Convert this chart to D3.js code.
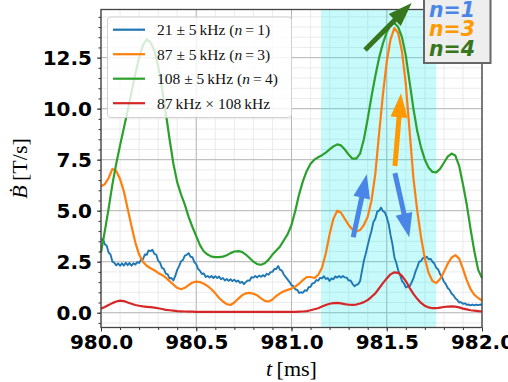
<!DOCTYPE html>
<html><head><meta charset="utf-8">
<script src="https://cdn.jsdelivr.net/npm/d3@7"></script>
<style>body{margin:0;background:#fff}</style>
</head><body><svg id="c" width="508" height="382"></svg>
<script>
// Time grid: smooth traces sampled every 0.02 ms, the n=1 trace every 0.01 ms
const tStart = 980.0;
const stepSmooth = 0.02;
const stepFast = 0.01;

// 21 ± 5 kHz (n = 1)
const blueVals = [
3.55,3.62,3.35,3.28,2.95,2.85,2.5,2.45,2.32,2.42,2.3,2.42,2.31,2.45,2.33,2.44,2.3,2.42,2.36,2.48,
2.44,2.6,2.62,2.85,2.84,3.05,3.02,3.08,2.88,2.85,2.55,2.45,2.2,2.15,1.92,1.88,1.68,1.7,1.58,1.8,
2.1,2.28,2.52,2.58,2.8,2.84,2.92,2.74,2.72,2.48,2.38,2.14,2.05,1.9,1.92,1.75,1.8,1.72,1.8,1.7,
1.79,1.7,1.77,1.64,1.7,1.58,1.65,1.56,1.64,1.55,1.62,1.52,1.58,1.46,1.52,1.4,1.5,1.58,1.57,1.74,
1.72,1.8,1.73,1.82,1.76,1.84,1.78,1.91,1.86,1.99,2.0,2.14,2.14,2.29,2.1,2.06,1.86,1.74,1.62,1.5,
1.35,1.3,1.15,1.12,0.97,1.0,0.98,1.1,1.07,1.25,1.27,1.44,1.46,1.6,1.57,1.71,1.68,1.79,1.66,1.7,
1.56,1.68,1.64,1.78,1.72,1.8,1.72,1.8,1.73,1.72,1.58,1.58,1.42,1.3,1.36,1.4,1.55,2.05,2.55,2.9,
3.3,3.68,4.02,4.45,4.6,4.95,5.0,5.15,4.98,4.92,4.68,4.35,3.8,3.35,2.72,2.45,2.08,1.86,1.55,1.45,
1.24,1.28,1.3,1.47,1.68,2.0,2.22,2.5,2.53,2.68,2.7,2.74,2.62,2.64,2.5,2.41,2.2,2.12,1.88,1.74,
1.52,1.4,1.21,1.12,0.94,0.86,0.71,0.63,0.5,0.52,0.44,0.46,0.39,0.4,0.36,0.4,0.36,0.4,0.37,0.4,
0.38];

// 87 ± 5 kHz (n = 3)
const orangeVals = [
6.2,6.3,6.6,7.05,6.95,6.55,5.95,5.1,4.25,3.45,2.85,2.5,2.3,2.18,2.08,1.95,1.85,1.72,1.55,1.38,
1.22,1.15,1.22,1.35,1.48,1.52,1.5,1.42,1.3,1.15,0.95,0.72,0.55,0.42,0.38,0.5,0.68,0.85,0.95,0.97,
0.93,0.85,0.7,0.58,0.55,0.65,0.82,0.95,1.05,1.12,1.18,1.28,1.42,1.6,1.75,1.75,1.7,1.85,2.2,2.9,
3.85,4.6,5.0,4.9,4.6,4.3,4.08,3.98,4.05,4.3,4.7,5.5,6.8,8.8,10.7,12.3,13.4,13.95,13.7,12.8,
11.2,8.9,6.6,5.0,3.7,2.65,1.95,1.55,1.45,1.65,2.0,2.4,2.7,2.82,2.65,2.15,1.6,1.15,0.88,0.72,
0.6];

// 108 ± 5 kHz (n = 4)
const greenVals = [
2.95,4.0,5.1,6.3,7.3,8.2,9.05,9.9,10.8,11.7,12.5,13.1,13.4,13.25,12.85,12.1,11.0,9.8,8.5,7.3,
6.4,5.8,5.3,4.7,4.2,3.75,3.3,3.0,2.85,2.75,2.72,2.72,2.75,2.82,2.92,3.0,3.02,2.98,2.85,2.68,
2.5,2.38,2.35,2.42,2.6,2.85,3.05,3.25,3.55,3.85,4.3,5.0,5.8,6.45,6.95,7.3,7.5,7.62,7.72,7.85,
8.0,8.15,8.25,8.2,8.0,7.75,7.55,7.55,7.8,8.5,9.5,10.6,11.6,12.5,13.2,13.75,14.1,14.2,14.0,13.5,
12.6,11.3,10.0,8.9,8.1,7.5,7.1,6.9,6.88,7.05,7.35,7.65,7.8,7.7,7.2,6.3,5.3,4.1,3.0,2.1,
1.7];

// 87 kHz × 108 kHz
const redVals = [
0.2,0.28,0.38,0.47,0.55,0.59,0.57,0.5,0.44,0.38,0.34,0.31,0.29,0.27,0.25,0.22,0.18,0.14,0.12,0.1,
0.08,0.07,0.06,0.05,0.05,0.04,0.04,0.04,0.04,0.04,0.04,0.04,0.04,0.04,0.04,0.04,0.04,0.04,0.04,0.04,
0.04,0.04,0.04,0.04,0.04,0.04,0.04,0.04,0.04,0.04,0.04,0.04,0.05,0.06,0.08,0.12,0.17,0.22,0.3,0.38,
0.44,0.47,0.48,0.46,0.42,0.39,0.38,0.4,0.45,0.52,0.62,0.78,0.95,1.2,1.45,1.68,1.88,1.98,1.95,1.8,
1.55,1.22,0.92,0.68,0.48,0.34,0.26,0.22,0.22,0.25,0.28,0.3,0.31,0.3,0.26,0.2,0.16,0.12,0.1,0.08,
0.06];

const seriesColors = ["#1f77b4", "#ff7f0e", "#2ca02c", "#d62728"];
const xTickVals = [980.0, 980.5, 981.0, 981.5, 982.0];
const yTickVals = [0, 2.5, 5, 7.5, 10, 12.5];
const shadedWindow = [981.155, 981.76];

// Arrow annotations in data coordinates: [tTail, vTail, tTip, vTip]
const arrowBlueUp = [981.324, 3.70, 981.395, 6.79];
const arrowBlueDown = [981.543, 6.84, 981.618, 3.70];
const arrowOrangeUp = [981.543, 7.19, 981.575, 10.75];
const arrowGreen = [981.386, 12.88, 981.631, 15.18];
const modeLabels = ["n=1", "n=3", "n=4"];
const modeColors = ["#4a86e8", "#ff9900", "#38761d"];

const svg = d3.select("#c");
const plotL = 101, plotR = 482, plotT = 9.5, plotB = 327.5;

const x = d3.scaleLinear().domain([980, 982]).range([plotL, plotR]);
const y = d3.scaleLinear().domain([-0.725, 14.86]).range([plotB, plotT]);

// Grid: minor then major
const gGrid = svg.append("g");
const xMinor = d3.range(980.1, 982.0, 0.1).map(v => +v.toFixed(2));
const yMinor = d3.range(-0.5, 14.9, 0.5).map(v => +v.toFixed(2));
gGrid.selectAll(".xm").data(xMinor).join("line")
  .attr("x1", d => x(d)).attr("x2", d => x(d)).attr("y1", plotT).attr("y2", plotB)
  .attr("stroke", "#e6e6e6").attr("stroke-width", 0.8);
gGrid.selectAll(".ym").data(yMinor).join("line")
  .attr("y1", d => y(d)).attr("y2", d => y(d)).attr("x1", plotL).attr("x2", plotR)
  .attr("stroke", "#e6e6e6").attr("stroke-width", 0.8);
gGrid.selectAll(".xM").data(xTickVals).join("line")
  .attr("x1", d => x(d)).attr("x2", d => x(d)).attr("y1", plotT).attr("y2", plotB)
  .attr("stroke", "#b8b8b8").attr("stroke-width", 1);
gGrid.selectAll(".yM").data(yTickVals).join("line")
  .attr("y1", d => y(d)).attr("y2", d => y(d)).attr("x1", plotL).attr("x2", plotR)
  .attr("stroke", "#b8b8b8").attr("stroke-width", 1);

// Shaded time window
svg.append("rect")
  .attr("x", x(shadedWindow[0])).attr("y", plotT)
  .attr("width", x(shadedWindow[1]) - x(shadedWindow[0])).attr("height", plotB - plotT)
  .attr("fill", "#00e8e8").attr("opacity", 0.22);

// Traces
const line = d3.line().x(d => x(d[0])).y(d => y(d[1]));
const toPts = (vals, step) => vals.map((v, i) => [tStart + i * step, v]);
const traces = [
  toPts(blueVals, stepFast),
  toPts(orangeVals, stepSmooth),
  toPts(greenVals, stepSmooth),
  toPts(redVals, stepSmooth)
];
svg.append("g").selectAll("path").data(traces).join("path")
  .attr("d", line).attr("fill", "none")
  .attr("stroke", (d, i) => seriesColors[i])
  .attr("stroke-width", (d, i) => i === 0 ? 1.9 : 2.2)
  .attr("stroke-linejoin", "round");

// Axes
const tickFont = "'DejaVu Sans', sans-serif";
const xAxis = d3.axisBottom(x).tickValues(xTickVals).tickFormat(d3.format(".1f")).tickSize(4).tickPadding(3);
const xAxisMinor = d3.axisBottom(x).tickValues(xMinor).tickFormat("").tickSize(2.5);
const yAxis = d3.axisLeft(y).tickValues(yTickVals).tickFormat(d3.format(".1f")).tickSize(4).tickPadding(5);
const yAxisMinor = d3.axisLeft(y).tickValues(yMinor).tickFormat("").tickSize(2.5);

function styleAxis(g) {
  g.select(".domain").remove();
  g.selectAll("line").attr("stroke", "#333").attr("stroke-width", 1);
  g.selectAll("text").attr("font-family", tickFont).attr("font-weight", "bold")
    .attr("font-size", 20).attr("fill", "#000");
}
svg.append("g").attr("transform", `translate(0,${plotB})`).call(xAxisMinor).call(styleAxis);
svg.append("g").attr("transform", `translate(0,${plotB})`).call(xAxis).call(styleAxis);
svg.append("g").attr("transform", `translate(${plotL},0)`).call(yAxisMinor).call(styleAxis);
svg.append("g").attr("transform", `translate(${plotL},0)`).call(yAxis).call(styleAxis);

// Frame
svg.append("rect").attr("x", plotL).attr("y", plotT).attr("width", plotR - plotL).attr("height", plotB - plotT)
  .attr("fill", "none").attr("stroke", "#444").attr("stroke-width", 1.3);

// Axis titles
const serif = "'Liberation Serif', 'DejaVu Serif', serif";
const xl = svg.append("text").attr("x", (plotL + plotR) / 2).attr("y", 376)
  .attr("text-anchor", "middle").attr("font-family", serif).attr("font-size", 22);
xl.append("tspan").attr("font-style", "italic").text("t");
xl.append("tspan").text("\u2009[ms]");
const yl = svg.append("text").attr("transform", `translate(27,${(plotT + plotB) / 2}) rotate(-90)`)
  .attr("text-anchor", "middle").attr("font-family", serif).attr("font-size", 22);
yl.append("tspan").attr("font-style", "italic").text("\u1E02");
yl.append("tspan").text("\u2009[T/s]");

// Legend
const legend = svg.append("g");
legend.append("rect").attr("x", 107.5).attr("y", 17).attr("width", 184).attr("height", 100.5)
  .attr("rx", 3).attr("fill", "#fff").attr("fill-opacity", 0.8)
  .attr("stroke", "#d0d0d0").attr("stroke-width", 1);
const legendParts = [
  [["21 \u00B1 5\u2009kHz (", false], ["n", true], ["\u2009=\u20091)", false]],
  [["87 \u00B1 5\u2009kHz (", false], ["n", true], ["\u2009=\u20093)", false]],
  [["108 \u00B1 5\u2009kHz (", false], ["n", true], ["\u2009=\u20094)", false]],
  [["87\u2009kHz \u00D7 108\u2009kHz", false]]
];
legendParts.forEach((parts, i) => {
  const yy = 29.7 + i * 24.5;
  legend.append("line").attr("x1", 113).attr("x2", 145).attr("y1", yy).attr("y2", yy)
    .attr("stroke", seriesColors[i]).attr("stroke-width", 2.2);
  const tx = legend.append("text").attr("x", 157).attr("y", yy + 5.3)
    .attr("font-family", serif).attr("font-size", 15.5).attr("fill", "#111");
  parts.forEach(([s, it]) => tx.append("tspan").attr("font-style", it ? "italic" : "normal").text(s));
});

// Arrows
function arrowPath(a, shaftW, headL, headW) {
  const x1 = x(a[0]), y1 = y(a[1]), x2 = x(a[2]), y2 = y(a[3]);
  const L = Math.hypot(x2 - x1, y2 - y1);
  const ux = (x2 - x1) / L, uy = (y2 - y1) / L, nx = -uy, ny = ux;
  const bx = x2 - ux * headL, by = y2 - uy * headL;
  const s = shaftW / 2, h = headW / 2;
  const p = [[x1 + nx * s, y1 + ny * s], [bx + nx * s, by + ny * s], [bx + nx * h, by + ny * h], [x2, y2],
             [bx - nx * h, by - ny * h], [bx - nx * s, by - ny * s], [x1 - nx * s, y1 - ny * s]];
  return "M" + p.map(q => q.join(",")).join("L") + "Z";
}
const arrows = [
  [arrowBlueUp, modeColors[0]],
  [arrowBlueDown, modeColors[0]],
  [arrowOrangeUp, modeColors[1]],
  [arrowGreen, modeColors[2]]
];
svg.append("g").selectAll("path").data(arrows).join("path")
  .attr("d", d => arrowPath(d[0], 5, 24, 17)).attr("fill", d => d[1]);

// Mode key box
const key = svg.append("g");
key.append("rect").attr("x", 424).attr("y", -4).attr("width", 66.5).attr("height", 67)
  .attr("fill", "#eeeeee").attr("stroke", "#666").attr("stroke-width", 2);
modeLabels.forEach((s, i) => {
  key.append("text").attr("x", 429).attr("y", 16.5 + i * 19.5)
    .attr("font-family", "'DejaVu Sans', sans-serif").attr("font-weight", "bold")
    .attr("font-style", "italic").attr("font-size", 20.5).attr("fill", modeColors[i]).text(s);
});
</script></body></html>
